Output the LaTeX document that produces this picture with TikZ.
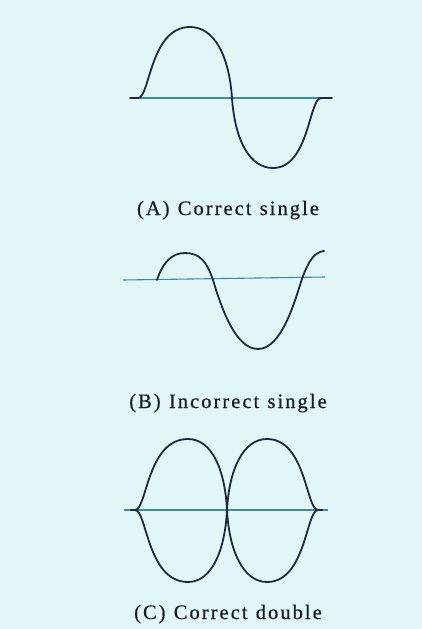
\documentclass[tikz,border=0pt]{standalone}
\usepackage{fontspec}
\setmainfont{Liberation Serif}
\newfontfamily\labelfont{Liberation Serif}[LetterSpace=10,FakeBold=0.6]
\definecolor{bgcol}{RGB}{226,246,248}
\definecolor{wavecol}{RGB}{30,40,62}
\definecolor{axiscol}{RGB}{60,140,160}
\definecolor{textcol}{RGB}{25,28,40}
\tikzset{
  wave/.style={draw=wavecol,line width=1.8pt,line cap=round,line join=round},
  axisline/.style={draw=axiscol,line width=1.1pt},
  caption/.style={text=textcol,font=\labelfont\fontsize{20.5}{23}\selectfont,inner sep=0pt,anchor=base}
}
\begin{document}
\begin{tikzpicture}[x=1pt,y=-1pt]
\fill[bgcol] (0,0) rectangle (422,629);
\useasboundingbox (0,0) rectangle (422,629);
% ---- Panel A
\coordinate (aL) at (130,98);
\coordinate (aR) at (332,98);
\draw[axisline] (aL) -- (aR);
\draw[wave] (aL) -- (138,98) .. controls (150,98) and (150,27) .. (190,27)
  .. controls (214,27) and (229,55) .. (232,98)
  .. controls (235,141) and (250,168) .. (273,168)
  .. controls (309,168) and (309,98) .. (321,98) -- (aR);
\node[caption] (capA) at (228,215) {(A)\hspace{0.4em}Correct\hspace{0.4em}single};
% ---- Panel B
\coordinate (bL) at (123,280);
\coordinate (bR) at (325,277);
\draw[axisline] (bL) -- (bR);
\draw[wave] (157,280) .. controls (163,262) and (172,253) .. (185,253)
  .. controls (200,253) and (207,262) .. (213,280)
  .. controls (222,310) and (236,349) .. (258,349)
  .. controls (282,349) and (295,300) .. (302,279)
  .. controls (308,262) and (314,252) .. (324,251);
\node[caption] (capB) at (228,408) {(B)\hspace{0.4em}Incorrect\hspace{0.4em}single};
% ---- Panel C
\coordinate (cL) at (124,510);
\coordinate (cR) at (328,510);
\draw[axisline] (cL) -- (cR);
\draw[wave] (131,510) -- (135,510) .. controls (147,510) and (147,439) .. (188,439)
  .. controls (212,439) and (225,470) .. (227,510)
  .. controls (229,550) and (243,582) .. (267,582)
  .. controls (306,582) and (306,510) .. (318,510) -- (322,510);
\draw[wave] (131,510) -- (135,510) .. controls (147,510) and (147,582) .. (188,582)
  .. controls (212,582) and (225,550) .. (227,510)
  .. controls (229,470) and (243,439) .. (267,439)
  .. controls (306,439) and (306,510) .. (318,510) -- (322,510);
\node[caption] (capC) at (228,619) {(C)\hspace{0.4em}Correct\hspace{0.4em}double};
\end{tikzpicture}
\end{document}
